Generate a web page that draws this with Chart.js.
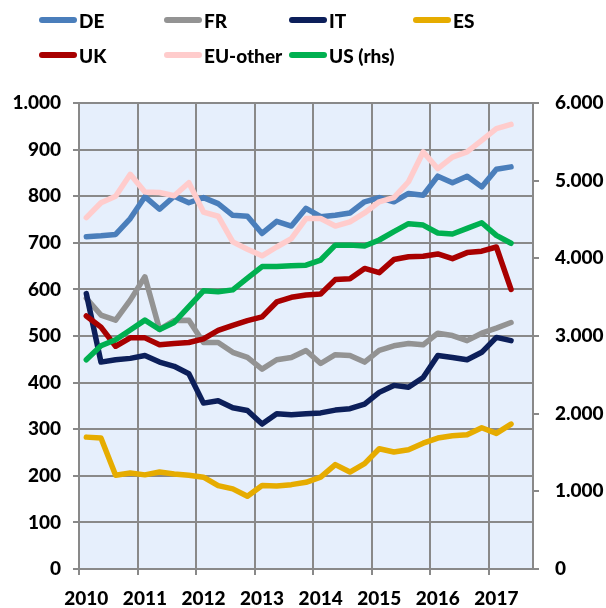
<!DOCTYPE html>
<html>
<head>
<meta charset="utf-8">
<script src="https://cdn.jsdelivr.net/npm/chart.js@4/dist/chart.umd.min.js"></script>
<style>
  html, body { margin: 0; padding: 0; background: #ffffff; }
  #wrap { position: relative; width: 606px; height: 608px; }
  #legend { position: absolute; left: 0; top: 0; width: 606px; height: 80px; font-family: Lato, "DejaVu Sans", sans-serif; font-weight: 900; font-size: 19px; color: #000; }
  .item { position: absolute; height: 24px; display: flex; align-items: center; white-space: nowrap; }
  .swatch { width: 38px; height: 6px; border-radius: 3px; margin-right: 2px; }
</style>
</head>
<body>
<div id="wrap">
  <canvas id="c" width="606" height="608"></canvas>
  <div id="legend"></div>
</div>
<script>
// ---- data ----
const quarters = [
  "2010Q1","2010Q2","2010Q3","2010Q4",
  "2011Q1","2011Q2","2011Q3","2011Q4",
  "2012Q1","2012Q2","2012Q3","2012Q4",
  "2013Q1","2013Q2","2013Q3","2013Q4",
  "2014Q1","2014Q2","2014Q3","2014Q4",
  "2015Q1","2015Q2","2015Q3","2015Q4",
  "2016Q1","2016Q2","2016Q3","2016Q4",
  "2017Q1","2017Q2","2017Q3"
];
const yearLabels = ["2010","2011","2012","2013","2014","2015","2016","2017"];

const seriesNames = ["DE","FR","IT","ES","UK","EU-other","US (rhs)"];

const DE = [713,715,718,752,799,772,800,786,797,784,759,757,720,746,736,
            774,756,759,764,788,797,788,806,802,843,829,843,820,858,863];
const FR = [581,545,534,577,627,514,533,534,486,486,465,454,429,449,454,
            469,441,460,458,444,469,479,484,481,506,501,490,506,517,529];
const IT = [591,444,449,452,458,444,435,419,356,361,346,340,311,333,331,
            333,335,341,344,354,379,394,390,411,458,454,449,465,497,490];
const ES = [283,281,201,206,202,208,204,201,197,179,172,156,179,178,181,
            186,197,224,208,226,258,251,256,270,281,286,288,303,291,311];
const UK = [543,519,478,496,496,481,484,486,494,512,523,533,541,573,583,
            588,590,621,623,645,636,664,670,671,676,666,679,682,691,600];
const EU_other = [754,786,800,847,809,808,801,829,766,757,702,686,672,691,709,
            752,752,736,745,764,788,797,831,895,859,884,895,920,945,954];
const US_rhs = [2694,2874,2952,3078,3204,3084,3174,3378,3582,3570,3594,3744,3894,3894,3906,
            3912,3978,4170,4170,4158,4236,4344,4446,4428,4326,4314,4386,4458,4296,4194];

const leftTicks = [0,100,200,300,400,500,600,700,800,900,1000];
const rightTicks = [0,1000,2000,3000,4000,5000,6000];

// ---- styling ----
const colors = ["#4A7EBB","#939393","#0C1F5A","#E6AC00","#A80000","#FFCCCC","#00B050"];
const GRID = "#898989";
const FONT = { family: "Lato, 'DejaVu Sans', sans-serif", weight: "900", size: 19 };

function fmt(v) {
  return String(v).replace(/\B(?=(\d{3})+(?!\d))/g, ".");
}

const allSeries = [DE, FR, IT, ES, UK, EU_other, US_rhs];
const datasets = allSeries.map((d, i) => ({
  label: seriesNames[i],
  data: d,
  borderColor: colors[i],
  backgroundColor: colors[i],
  borderWidth: 5.5,
  pointRadius: 0,
  pointHoverRadius: 0,
  tension: 0,
  fill: false,
  borderJoinStyle: "round",
  borderCapStyle: "round",
  yAxisID: i === 6 ? "y2" : "y",
  order: allSeries.length - i
}));

// HTML legend, two rows of fixed-width columns
const legend = document.getElementById("legend");
const colX = [39, 164, 289, 413];
const rowY = [8, 43];
seriesNames.forEach((name, i) => {
  const it = document.createElement("div");
  it.className = "item";
  it.style.left = colX[i % 4] + "px";
  it.style.top = rowY[Math.floor(i / 4)] + "px";
  const sw = document.createElement("span");
  sw.className = "swatch";
  sw.style.background = colors[i];
  const tx = document.createElement("span");
  tx.textContent = name;
  it.appendChild(sw);
  it.appendChild(tx);
  legend.appendChild(it);
});

const bgPlugin = {
  id: "bg",
  beforeDraw(chart) {
    const { ctx, chartArea: a } = chart;
    ctx.save();
    ctx.fillStyle = "#E6EFFC";
    ctx.fillRect(a.left, a.top, a.right - a.left, a.bottom - a.top);
    ctx.restore();
  }
};

new Chart(document.getElementById("c"), {
  type: "line",
  data: { labels: quarters, datasets },
  plugins: [bgPlugin],
  options: {
    responsive: false,
    devicePixelRatio: 1,
    animation: false,
    layout: { padding: { top: 103, left: 0, right: 0, bottom: 0 } },
    plugins: { legend: { display: false }, tooltip: { enabled: false } },
    scales: {
      x: {
        type: "category",
        offset: true,
        grid: {
          offset: true,
          color: (c) => (c.index % 4 === 0 ? GRID : "rgba(0,0,0,0)"),
          lineWidth: 2,
          tickLength: 6,
          drawOnChartArea: true
        },
        border: { color: GRID, width: 2 },
        ticks: {
          autoSkip: false,
          maxRotation: 0,
          minRotation: 0,
          padding: 12,
          color: "#000",
          font: FONT,
          callback: (v, i) => (i % 4 === 0 ? yearLabels[i / 4] || "" : "")
        },
        afterFit: (s) => { s.height = 39; }
      },
      y: {
        position: "left",
        min: 0,
        max: 1000,
        afterBuildTicks: (s) => { s.ticks = leftTicks.map(v => ({ value: v })); },
        grid: { color: GRID, lineWidth: 2, tickLength: 6 },
        border: { color: GRID, width: 2 },
        ticks: { color: "#000", font: FONT, padding: 12, callback: (v) => fmt(v) },
        afterFit: (s) => { s.width = 79; }
      },
      y2: {
        position: "right",
        min: 0,
        max: 6000,
        afterBuildTicks: (s) => { s.ticks = rightTicks.map(v => ({ value: v })); },
        grid: { drawOnChartArea: false, color: GRID, lineWidth: 2, tickLength: 6 },
        border: { color: GRID, width: 2 },
        ticks: { color: "#000", font: FONT, padding: 16, callback: (v) => fmt(v) },
        afterFit: (s) => { s.width = 73; }
      }
    }
  }
});
</script>
</body>
</html>
